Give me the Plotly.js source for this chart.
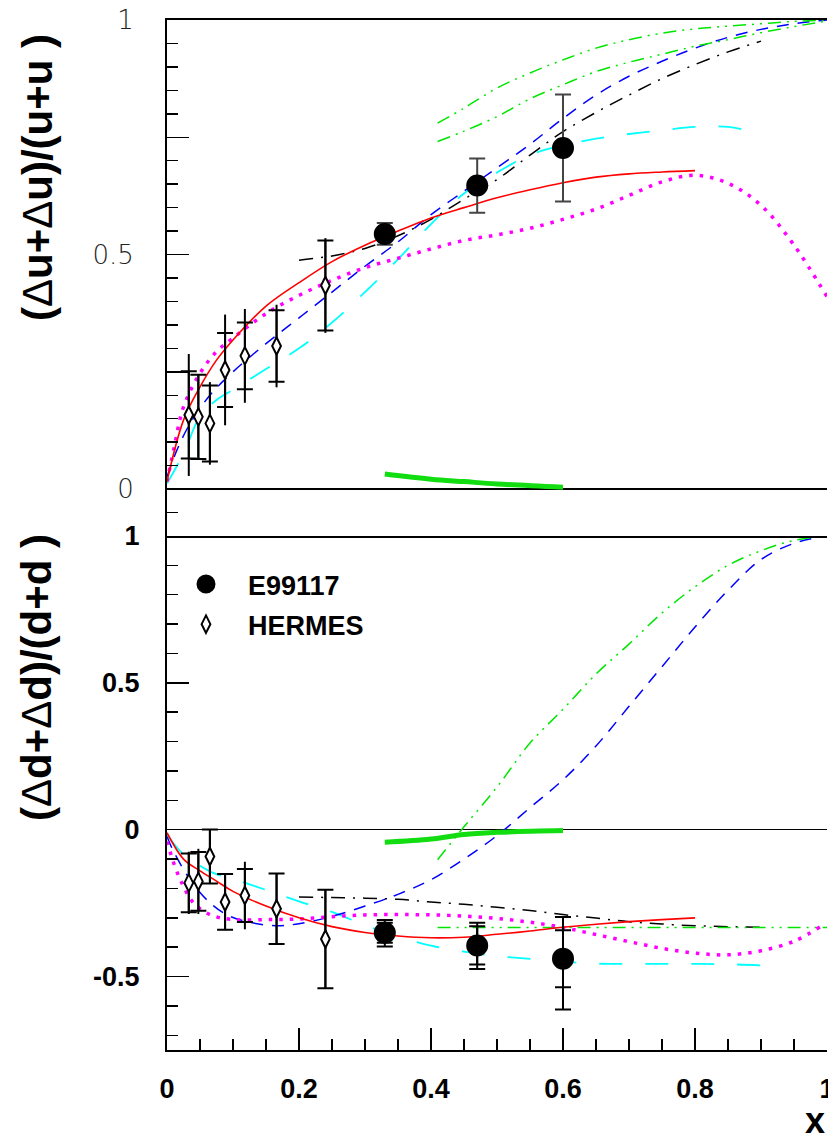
<!DOCTYPE html>
<html>
<head>
<meta charset="utf-8">
<script src="https://cdn.plot.ly/plotly-3.0.1.min.js"></script>
<style>
  html, body { margin: 0; padding: 0; background: #fff; }
  #chart { width: 828px; height: 1142px; }
</style>
</head>
<body>
<div id="chart"></div>
<script>
// ---- E99117 (filled circles) ----
const e99X = [0.33, 0.47, 0.60];
const e99UY = [0.544, 0.647, 0.727];
const e99UErr = [0.023, 0.058, 0.114];
const e99DY = [-0.351, -0.394, -0.439];
const e99DStat = [0.034, 0.065, 0.097];
const e99DTotPlus = [0.044, 0.077, 0.142];
const e99DTotMinus = [0.047, 0.080, 0.173];

// ---- HERMES (open diamonds) ----
const hermX = [0.033, 0.0475, 0.065, 0.088, 0.118, 0.166, 0.240];
const hermUY = [0.158, 0.154, 0.140, 0.254, 0.284, 0.305, 0.434];
const hermUStat = [0.093, 0.090, 0.081, 0.079, 0.071, 0.076, 0.096];
const hermUTot = [0.130, 0.090, 0.088, 0.118, 0.100, 0.088, 0.101];
const hermDY = [-0.181, -0.176, -0.091, -0.246, -0.224, -0.269, -0.372];
const hermDStat = [0.100, 0.100, 0.092, 0.095, 0.090, 0.120, 0.168];
const hermDTot = [0.106, 0.111, 0.092, 0.096, 0.115, 0.120, 0.170];

// ---- model curves, u-quark panel ----
const redUX = [0, 0.025, 0.05, 0.075, 0.1, 0.15, 0.2, 0.25, 0.3, 0.35, 0.4, 0.45, 0.5, 0.55, 0.6, 0.65, 0.7, 0.75, 0.8];
const redUY = [0.016, 0.147, 0.218, 0.275, 0.318, 0.39, 0.44, 0.485, 0.52, 0.55, 0.578, 0.600, 0.621, 0.638, 0.653, 0.665, 0.672, 0.676, 0.679];
const magUX = [0, 0.01, 0.025, 0.05, 0.075, 0.1, 0.15, 0.2, 0.25, 0.3, 0.35, 0.4, 0.45, 0.5, 0.55, 0.6, 0.65, 0.7, 0.75, 0.8, 0.85, 0.9, 0.95, 1.0];
const magUY = [0.016, 0.083, 0.175, 0.247, 0.293, 0.322, 0.374, 0.413, 0.445, 0.472, 0.492, 0.512, 0.530, 0.542, 0.556, 0.575, 0.597, 0.626, 0.655, 0.669, 0.652, 0.605, 0.52, 0.41];
const blueUX = [0, 0.015, 0.035, 0.065, 0.1, 0.15, 0.2, 0.25, 0.3, 0.35, 0.4, 0.45, 0.5, 0.55, 0.6, 0.65, 0.7, 0.75, 0.8, 0.85, 0.9, 0.95, 1.0];
const blueUY = [0.026, 0.083, 0.14, 0.2, 0.25, 0.31, 0.365, 0.42, 0.475, 0.527, 0.585, 0.635, 0.685, 0.735, 0.79, 0.84, 0.88, 0.912, 0.94, 0.963, 0.98, 0.992, 1.0];
const cyanUX = [0, 0.025, 0.05, 0.075, 0.1, 0.15, 0.2, 0.25, 0.3, 0.35, 0.4, 0.45, 0.5, 0.55, 0.6, 0.65, 0.7, 0.75, 0.8, 0.85, 0.9];
const cyanUY = [0.012, 0.076, 0.155, 0.19, 0.212, 0.256, 0.30, 0.355, 0.42, 0.49, 0.565, 0.63, 0.675, 0.712, 0.733, 0.747, 0.757, 0.765, 0.772, 0.772, 0.757];
const blackUX = [0.2, 0.25, 0.3, 0.35, 0.4, 0.45, 0.5, 0.55, 0.6, 0.65, 0.7, 0.75, 0.8, 0.85, 0.9];
const blackUY = [0.488, 0.497, 0.513, 0.54, 0.575, 0.618, 0.66, 0.712, 0.762, 0.803, 0.84, 0.875, 0.905, 0.932, 0.955];
const greenAUX = [0.41, 0.45, 0.5, 0.55, 0.6, 0.65, 0.7, 0.75, 0.8, 0.85, 0.9, 0.95, 1.0];
const greenAUY = [0.78, 0.812, 0.855, 0.887, 0.915, 0.94, 0.958, 0.972, 0.981, 0.987, 0.992, 0.997, 1.0];
const greenBUX = [0.41, 0.45, 0.5, 0.55, 0.6, 0.65, 0.7, 0.75, 0.8, 0.85, 0.9, 0.95, 1.0];
const greenBUY = [0.741, 0.763, 0.794, 0.832, 0.862, 0.89, 0.91, 0.927, 0.944, 0.958, 0.973, 0.986, 0.998];
const thickUX = [0.33, 0.4, 0.45, 0.5, 0.6];
const thickUY = [0.032, 0.021, 0.016, 0.011, 0.004];

// ---- model curves, d-quark panel ----
const redDX = [0, 0.025, 0.05, 0.075, 0.1, 0.15, 0.2, 0.25, 0.3, 0.35, 0.4, 0.45, 0.5, 0.55, 0.6, 0.65, 0.7, 0.75, 0.8];
const redDY = [-0.01, -0.10, -0.14, -0.175, -0.21, -0.26, -0.30, -0.33, -0.35, -0.362, -0.368, -0.366, -0.356, -0.345, -0.332, -0.322, -0.313, -0.306, -0.300];
const magDX = [0, 0.012, 0.025, 0.04, 0.065, 0.1, 0.15, 0.2, 0.25, 0.3, 0.35, 0.4, 0.45, 0.5, 0.55, 0.6, 0.65, 0.7, 0.75, 0.8, 0.85, 0.9, 0.95, 0.99];
const magDY = [-0.04, -0.125, -0.193, -0.249, -0.289, -0.306, -0.306, -0.304, -0.296, -0.29, -0.289, -0.29, -0.294, -0.302, -0.315, -0.333, -0.357, -0.381, -0.404, -0.42, -0.426, -0.412, -0.38, -0.33];
const blueDX = [0, 0.01, 0.035, 0.06, 0.09, 0.125, 0.165, 0.2, 0.25, 0.3, 0.35, 0.4, 0.45, 0.5, 0.55, 0.6, 0.65, 0.7, 0.75, 0.8, 0.85, 0.9, 0.95, 1.0];
const blueDY = [-0.023, -0.074, -0.17, -0.238, -0.289, -0.315, -0.327, -0.32, -0.295, -0.26, -0.22, -0.17, -0.1, -0.02, 0.075, 0.17, 0.285, 0.42, 0.555, 0.69, 0.815, 0.92, 0.975, 1.0];
const cyanDX = [0, 0.025, 0.04, 0.07, 0.1, 0.15, 0.2, 0.25, 0.3, 0.35, 0.4, 0.45, 0.5, 0.55, 0.6, 0.65, 0.7, 0.75, 0.8, 0.85, 0.9];
const cyanDY = [-0.017, -0.085, -0.108, -0.147, -0.167, -0.205, -0.244, -0.28, -0.325, -0.364, -0.395, -0.415, -0.43, -0.44, -0.449, -0.456, -0.457, -0.457, -0.457, -0.458, -0.462];
const blackDX = [0.2, 0.25, 0.3, 0.35, 0.4, 0.45, 0.5, 0.55, 0.6, 0.65, 0.7, 0.75, 0.8, 0.85, 0.9];
const blackDY = [-0.229, -0.231, -0.233, -0.237, -0.246, -0.254, -0.264, -0.275, -0.289, -0.301, -0.313, -0.321, -0.327, -0.330, -0.332];
const greenADX = [0.41, 0.45, 0.5, 0.55, 0.6, 0.65, 0.7, 0.75, 0.8, 0.85, 0.9, 0.95, 1.0];
const greenADY = [-0.102, 0.01, 0.145, 0.295, 0.41, 0.53, 0.632, 0.738, 0.827, 0.9, 0.95, 0.985, 1.0];
const greenBDX = [0.41, 1.0];
const greenBDY = [-0.333, -0.333];
const thickDX = [0.33, 0.4, 0.45, 0.5, 0.6];
const thickDY = [-0.043, -0.032, -0.016, -0.009, -0.003];

// tick labels
const xTickVals = [0, 0.2, 0.4, 0.6, 0.8, 1];
const xTickText = ['0', '0.2', '0.4', '0.6', '0.8', '1'];
const uTickVals = [0, 0.25, 0.5, 0.75, 1];
const uTickText = ['0', '', '0.5', '', '1'];
const dTickVals = [-0.5, 0, 0.5, 1];
const dTickText = ['-0.5', '0', '0.5', '1'];

const W = 828, H = 1142;
const px2x = p => p / W;
const px2y = p => (H - p) / H;

// line styles
const S = {
  red:   { color: '#ff0000', width: 1.6, shape: 'spline', smoothing: 1 },
  mag:   { color: '#ff00ff', width: 3.5, dash: '3.5px,7px', shape: 'spline', smoothing: 1 },
  blue:  { color: '#0000ff', width: 1.5, dash: '12px,9px', shape: 'spline', smoothing: 1 },
  cyan:  { color: '#00ffff', width: 1.8, dash: '23px,23px', shape: 'spline', smoothing: 1 },
  black: { color: '#000000', width: 1.5, dash: '14px,8px,2px,8px', shape: 'spline', smoothing: 1 },
  green: { color: '#00e600', width: 1.5, dash: '13px,6px,2px,6px,2px,6px', shape: 'spline', smoothing: 1 },
  thick: { color: '#11dd11', width: 5, shape: 'spline', smoothing: 1 }
};

function curve(x, y, line, xa, ya) {
  return { x, y, type: 'scatter', mode: 'lines', line, xaxis: xa, yaxis: ya,
           showlegend: false, hoverinfo: 'skip' };
}
function errOnly(x, y, plus, minus, capw, xa, ya) {
  return { x, y, type: 'scatter', mode: 'markers', xaxis: xa, yaxis: ya,
           marker: { size: 1, opacity: 0 }, showlegend: false, hoverinfo: 'skip',
           error_y: { type: 'data', array: plus, arrayminus: minus, symmetric: false,
                      color: '#000', thickness: 2, width: capw } };
}

const traces = [];
// u panel (x2, y2)
traces.push(curve(cyanUX, cyanUY, S.cyan, 'x2', 'y2'));
traces.push(curve(blueUX, blueUY, S.blue, 'x2', 'y2'));
traces.push(curve(blackUX, blackUY, S.black, 'x2', 'y2'));
traces.push(curve(greenAUX, greenAUY, S.green, 'x2', 'y2'));
traces.push(curve(greenBUX, greenBUY, S.green, 'x2', 'y2'));
traces.push(curve(magUX, magUY, S.mag, 'x2', 'y2'));
traces.push(curve(redUX, redUY, S.red, 'x2', 'y2'));
traces.push(curve(thickUX, thickUY, S.thick, 'x2', 'y2'));
// d panel (x, y)
traces.push(curve(cyanDX, cyanDY, S.cyan, 'x', 'y'));
traces.push(curve(blueDX, blueDY, S.blue, 'x', 'y'));
traces.push(curve(blackDX, blackDY, S.black, 'x', 'y'));
traces.push(curve(greenADX, greenADY, S.green, 'x', 'y'));
traces.push(curve(greenBDX, greenBDY, S.green, 'x', 'y'));
traces.push(curve(magDX, magDY, S.mag, 'x', 'y'));
traces.push(curve(redDX, redDY, S.red, 'x', 'y'));
traces.push(curve(thickDX, thickDY, S.thick, 'x', 'y'));

// HERMES total errors (no caps) then stat errors with caps + markers
traces.push(errOnly(hermX, hermUY, hermUTot, hermUTot, 0, 'x2', 'y2'));
traces.push(errOnly(hermX, hermDY, hermDTot, hermDTot, 0, 'x', 'y'));
const hermMarker = { symbol: 'diamond-tall', size: 12.5, color: '#ffffff', line: { color: '#000', width: 2 } };
traces.push({ x: hermX, y: hermUY, type: 'scatter', mode: 'markers', xaxis: 'x2', yaxis: 'y2',
  marker: hermMarker, showlegend: false, hoverinfo: 'skip',
  error_y: { type: 'data', array: hermUStat, color: '#000', thickness: 2, width: 8 } });

// E99117 total errors in the d panel
traces.push(errOnly(e99X, e99DY, e99DTotPlus, e99DTotMinus, 8, 'x', 'y'));
const e99Marker = { symbol: 'circle', size: 19, color: '#000000', line: { color: '#000', width: 3 } };
traces.push({ x: e99X, y: e99UY, type: 'scatter', mode: 'markers', xaxis: 'x2', yaxis: 'y2',
  marker: e99Marker, showlegend: false, hoverinfo: 'skip',
  error_y: { type: 'data', array: e99UErr, color: '#444', thickness: 2, width: 8 } });
traces.push({ x: e99X, y: e99DY, type: 'scatter', mode: 'markers', xaxis: 'x', yaxis: 'y',
  name: 'E99117', legendgroup: 'a', marker: e99Marker, hoverinfo: 'skip',
  error_y: { type: 'data', array: e99DStat, color: '#000', thickness: 2, width: 8 } });
traces.push({ x: hermX, y: hermDY, type: 'scatter', mode: 'markers', xaxis: 'x', yaxis: 'y',
  name: 'HERMES', legendgroup: 'b', marker: hermMarker, hoverinfo: 'skip',
  error_y: { type: 'data', array: hermDStat, color: '#000', thickness: 2, width: 8 } });

const boldFont = { family: 'Liberation Sans, Arial, sans-serif', size: 27, color: '#000', weight: 'bold' };
const thinFont = { family: 'DejaVu Sans ExtraLight, DejaVu Sans, sans-serif', size: 26, color: '#222', weight: 200 };
const xDomain = [px2x(167), px2x(827)];

const layout = {
  width: W, height: H,
  margin: { l: 0, r: 0, t: 0, b: 0 },
  paper_bgcolor: '#fff', plot_bgcolor: '#fff',
  showlegend: true,
  legend: {
    x: px2x(164), y: px2y(560), xanchor: 'left', yanchor: 'top',
    font: boldFont, itemwidth: 74, tracegroupgap: 2,
    bgcolor: 'rgba(0,0,0,0)', borderwidth: 0
  },
  xaxis: {
    domain: xDomain, range: [0, 1], anchor: 'y',
    showgrid: false, zeroline: false,
    showline: true, linecolor: '#000', linewidth: 2,
    ticks: 'inside', ticklen: 22, tickwidth: 1.5, tickcolor: '#000',
    tickmode: 'array', tickvals: xTickVals, ticktext: xTickText,
    tickfont: boldFont, ticklabelstandoff: 14, ticklabeloverflow: 'allow',
    minor: { ticks: 'inside', ticklen: 11, tickwidth: 1.5, tickcolor: '#000', tickmode: 'linear', tick0: 0, dtick: 0.05, showgrid: false }
  },
  yaxis: {
    domain: [px2y(1050), px2y(536)], range: [-0.75, 1], anchor: 'x',
    showgrid: false,
    zeroline: true, zerolinecolor: '#000', zerolinewidth: 1.5,
    showline: true, linecolor: '#000', linewidth: 2,
    ticks: 'inside', ticklen: 22, tickwidth: 1.5, tickcolor: '#000',
    tickmode: 'array', tickvals: dTickVals, ticktext: dTickText,
    tickfont: boldFont, ticklabelstandoff: 20,
    minor: { ticks: 'inside', ticklen: 11, tickwidth: 1.5, tickcolor: '#000', tickmode: 'linear', tick0: 0, dtick: 0.1, showgrid: false }
  },
  xaxis2: {
    domain: xDomain, range: [0, 1], anchor: 'y2',
    showgrid: false, zeroline: false,
    showline: true, linecolor: '#000', linewidth: 2, mirror: true,
    ticks: '', showticklabels: false
  },
  yaxis2: {
    domain: [px2y(536), px2y(20)], range: [-0.1, 1], anchor: 'x2',
    showgrid: false,
    zeroline: true, zerolinecolor: '#000', zerolinewidth: 1.5,
    showline: true, linecolor: '#000', linewidth: 2,
    ticks: 'inside', ticklen: 22, tickwidth: 1.5, tickcolor: '#000',
    tickmode: 'array', tickvals: uTickVals, ticktext: uTickText,
    tickfont: thinFont, ticklabelstandoff: 26,
    minor: { ticks: 'inside', ticklen: 11, tickwidth: 1.5, tickcolor: '#000', tickmode: 'linear', tick0: 0, dtick: 0.05, showgrid: false }
  },
  annotations: [
    { xref: 'paper', yref: 'paper', x: px2x(37), y: px2y(178), textangle: -90,
      showarrow: false, xanchor: 'center', yanchor: 'middle',
      text: '(<span style="font-weight:normal">Δ</span>u+<span style="font-weight:normal">Δ</span>u)/(u+u )',
      font: { family: 'Liberation Sans, Arial, sans-serif', size: 42, color: '#000', weight: 'bold' } },
    { xref: 'paper', yref: 'paper', x: px2x(37), y: px2y(678), textangle: -90,
      showarrow: false, xanchor: 'center', yanchor: 'middle',
      text: '(<span style="font-weight:normal">Δ</span>d+<span style="font-weight:normal">Δ</span>d)/(d+d )',
      font: { family: 'Liberation Sans, Arial, sans-serif', size: 42, color: '#000', weight: 'bold' } },
    { xref: 'paper', yref: 'paper', x: px2x(815), y: px2y(1120),
      showarrow: false, xanchor: 'center', yanchor: 'middle', text: 'x',
      font: { family: 'Liberation Sans, Arial, sans-serif', size: 36, color: '#000', weight: 'bold' } }
  ]
};

Plotly.newPlot('chart', traces, layout, { staticPlot: true, displayModeBar: false });
</script>
</body>
</html>
